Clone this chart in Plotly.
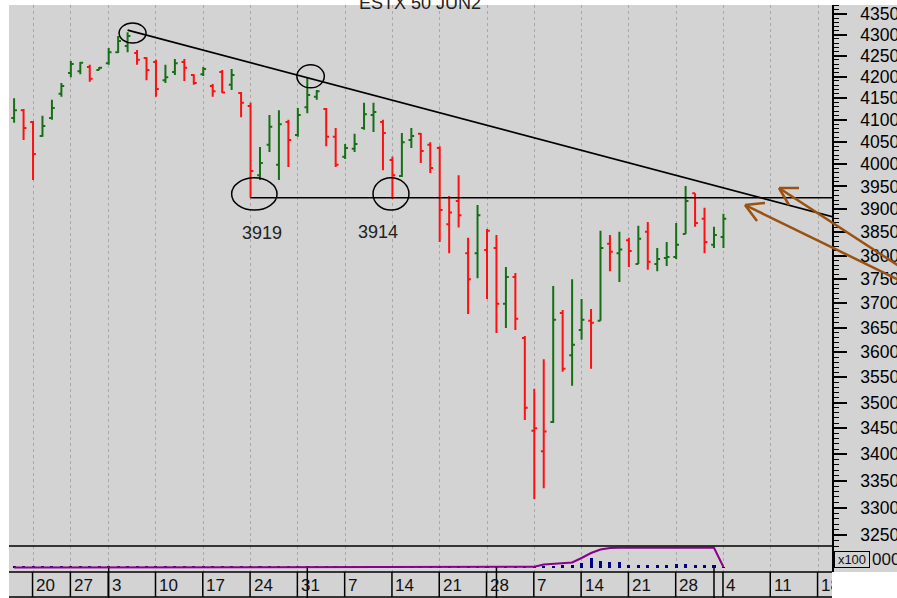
import plotly.graph_objects as go
import pandas as pd

# ---------------- data ----------------
dates = [
    "2021-12-16", "2021-12-17", "2021-12-20", "2021-12-21", "2021-12-22", "2021-12-23",
    "2021-12-27", "2021-12-28", "2021-12-29", "2021-12-30",
    "2022-01-03", "2022-01-04", "2022-01-05", "2022-01-06", "2022-01-07",
    "2022-01-10", "2022-01-11", "2022-01-12", "2022-01-13", "2022-01-14",
    "2022-01-17", "2022-01-18", "2022-01-19", "2022-01-20", "2022-01-21",
    "2022-01-24", "2022-01-25", "2022-01-26", "2022-01-27", "2022-01-28",
    "2022-01-31", "2022-02-01", "2022-02-02", "2022-02-03", "2022-02-04",
    "2022-02-07", "2022-02-08", "2022-02-09", "2022-02-10", "2022-02-11",
    "2022-02-14", "2022-02-15", "2022-02-16", "2022-02-17", "2022-02-18",
    "2022-02-21", "2022-02-22", "2022-02-23", "2022-02-24", "2022-02-25",
    "2022-02-28", "2022-03-01", "2022-03-02", "2022-03-03", "2022-03-04",
    "2022-03-07", "2022-03-08", "2022-03-09", "2022-03-10", "2022-03-11",
    "2022-03-14", "2022-03-15", "2022-03-16", "2022-03-17", "2022-03-18",
    "2022-03-21", "2022-03-22", "2022-03-23", "2022-03-24", "2022-03-25",
    "2022-03-28", "2022-03-29", "2022-03-30", "2022-03-31", "2022-04-01",
    "2022-04-04",
]

opens = [4104, 4122, 4095, 4063, 4104, 4160, 4209, 4213, 4223, 4216,
         4232, 4258, 4273, 4256, 4244, 4235, 4192, 4211, 4235, 4204,
         4206, 4178, 4211, 4181, 4162, 4132, 3975, 4043, 3998, 4095,
         4065, 4129, 4153, 4125, 4061, 4016, 4034, 4081, 4111, 4095,
         4009, 3973, 4054, 4068, 4043, 4036, 3867, 3918, 3805, 3805,
         3812, 3816, 3699, 3755, 3629, 3445, 3406, 3462, 3680, 3594,
         3645, 3664, 3664, 3825, 3805, 3833, 3782, 3851, 3782, 3795,
         3797, 3846, 3935, 3879, 3823, 3840]
highs = [4150, 4125, 4097, 4109, 4146, 4185, 4237, 4235, 4228, 4223,
         4268, 4297, 4306, 4263, 4246, 4240, 4228, 4242, 4242, 4206,
         4223, 4183, 4216, 4218, 4164, 4139, 4038, 4111, 4122, 4100,
         4127, 4197, 4169, 4127, 4081, 4045, 4068, 4139, 4139, 4100,
         4016, 4070, 4081, 4070, 4049, 4040, 3929, 3975, 3838, 3909,
         3857, 3844, 3776, 3763, 3633, 3527, 3586, 3736, 3686, 3750,
         3709, 3688, 3853, 3844, 3851, 3838, 3864, 3872, 3816, 3829,
         3870, 3951, 3935, 3903, 3862, 3890]
lows = [4093, 4054, 3964, 4061, 4100, 4153, 4199, 4206, 4188, 4216,
        4228, 4256, 4258, 4228, 4192, 4153, 4185, 4204, 4190, 4181,
        4202, 4153, 4162, 4169, 4106, 3925, 3964, 4027, 3964, 3993,
        4061, 4115, 4146, 4040, 3993, 4011, 4027, 4077, 4072, 3986,
        3922, 3971, 4036, 4002, 3980, 3829, 3805, 3860, 3678, 3752,
        3709, 3639, 3649, 3645, 3466, 3316, 3336, 3460, 3561, 3533,
        3625, 3567, 3664, 3767, 3744, 3776, 3782, 3770, 3767, 3778,
        3793, 3846, 3862, 3805, 3816, 3816]
closes = [4122, 4081, 4022, 4086, 4127, 4178, 4230, 4233, 4195, 4221,
          4258, 4285, 4297, 4240, 4216, 4171, 4199, 4232, 4221, 4185,
          4218, 4166, 4163, 4204, 4139, 3984, 4002, 4084, 4090, 4054,
          4111, 4157, 4166, 4061, 3998, 4036, 4045, 4113, 4118, 4070,
          3975, 4049, 4063, 4029, 3991, 3898, 3893, 3887, 3750, 3887,
          3853, 3699, 3755, 3668, 3490, 3450, 3444, 3666, 3567, 3615,
          3666, 3660, 3816, 3808, 3813, 3810, 3836, 3787, 3793, 3797,
          3823, 3918, 3870, 3829, 3844, 3879]

volume = [1.5] * 56 + [2, 2, 3, 3, 5, 10, 7, 6, 6, 3, 3, 3, 3, 3, 4, 4, 3, 3, 3, 1]
open_interest = [0.5] * 49 + [1.2] * 7 + [3.5, 4, 4.5, 5.5, 10, 15, 18.5, 20] + [20.3] * 11 + [1]

price_ticks = list(range(3250, 4351, 50))
title_text = "ESTX 50 JUN2"

# drawings (bar index, price)
trend_x = [12, 86.6]
trend_y = [4311, 3883]
support_x = [25, 86.6]
support_y = [3925, 3925]
level_labels = [("3919", 262, 233), ("3914", 378, 232)]  # text, pixel x, pixel y

# ---------------- geometry helpers ----------------
W, H = 897, 598
ML, MR, MT, MB = 9, 65, 5, 26
PW, PH = W - ML - MR, H - MT - MB


def pxx(x):
    return (x - ML) / PW


def pxy(y):
    return (H - MB - y) / PH


BG = "#d3d3d3"
GREEN = "#157015"
RED = "#ff1010"
NAVY = "#000080"
PURPLE = "#8b008b"
BROWN = "#9a5212"
FONT = "Liberation Sans, Arial, sans-serif"

future_dates = pd.bdate_range("2022-04-05", "2022-04-22").strftime("%Y-%m-%d").tolist()
axis_dates = dates + future_dates
idx = list(range(len(dates)))

# colour by close versus previous close
up = [closes[0] >= opens[0]] + [closes[i] >= closes[i - 1] for i in range(1, len(closes))]

fig = go.Figure()
for flag, col in ((True, GREEN), (False, RED)):
    sel = [i for i in idx if up[i] == flag]
    fig.add_trace(go.Ohlc(
        x=sel,
        open=[opens[i] for i in sel], high=[highs[i] for i in sel],
        low=[lows[i] for i in sel], close=[closes[i] for i in sel],
        increasing=dict(line=dict(color=col, width=2)),
        decreasing=dict(line=dict(color=col, width=2)),
        tickwidth=0.3, hoverinfo="skip", showlegend=False,
        xaxis="x", yaxis="y"))

fig.add_trace(go.Scatter(x=trend_x, y=trend_y, mode="lines",
                         line=dict(color="black", width=1.6),
                         hoverinfo="skip", showlegend=False, xaxis="x", yaxis="y"))
fig.add_trace(go.Scatter(x=support_x, y=support_y, mode="lines",
                         line=dict(color="black", width=1.6),
                         hoverinfo="skip", showlegend=False, xaxis="x", yaxis="y"))

fig.add_trace(go.Bar(x=idx, y=volume, marker=dict(color=NAVY, line=dict(width=0)),
                     width=0.32, hoverinfo="skip", showlegend=False,
                     xaxis="x2", yaxis="y2"))
fig.add_trace(go.Scatter(x=idx, y=open_interest, mode="lines",
                         line=dict(color=PURPLE, width=2),
                         hoverinfo="skip", showlegend=False, xaxis="x2", yaxis="y2"))

# week ticks (Mondays) and month starts
mondays = [i for i, d in enumerate(axis_dates) if pd.Timestamp(d).dayofweek == 0]
month_starts = [i for i in range(1, len(axis_dates))
                if axis_dates[i][:7] != axis_dates[i - 1][:7]]

x_range = [(ML - 14.1) / 9.458, (ML + PW - 14.1) / 9.458]
main_bottom = pxy(546)

common_x = dict(range=x_range, tickmode="array", tickvals=mondays, showticklabels=False,
                showgrid=True, griddash="dot", gridcolor="#a9a9a9", gridwidth=1,
                zeroline=False, showline=False, ticks="", automargin=False)

minor_vals = [v for v in range(3230, 4380, 10) if v % 50 != 0]

fig.update_layout(
    width=W, height=H,
    margin=dict(l=ML, r=MR, t=MT, b=MB, pad=0, autoexpand=False),
    paper_bgcolor="white", plot_bgcolor=BG,
    font=dict(family=FONT, color="black"),
    bargap=0,
    xaxis=dict(domain=[0, 1], anchor="y", rangeslider=dict(visible=False), **common_x),
    xaxis2=dict(domain=[0, 1], anchor="y2", matches="x", **common_x),
    yaxis=dict(domain=[main_bottom, 1], anchor="x", side="right", type="log",
               range=[3.50921, 3.64068], tickmode="array", tickvals=price_ticks,
               ticktext=[str(v) for v in price_ticks], ticks="outside", ticklen=13,
               tickwidth=1.5, tickcolor="black", tickfont=dict(size=17.5, family=FONT),
               ticklabelstandoff=10, automargin=False,
               minor=dict(tickmode="array", tickvals=minor_vals, ticks="outside",
                          ticklen=5, tickwidth=1, tickcolor="black", showgrid=False),
               showline=True, linecolor="black", linewidth=1.5, showgrid=False,
               zeroline=False),
    yaxis2=dict(domain=[0, main_bottom], anchor="x2", side="right", range=[-4, 22],
                showticklabels=False, ticks="", showgrid=False, zeroline=False,
                showline=True, linecolor="black", linewidth=1.5, automargin=False),
)

shapes = []
# gray label column and date strip
shapes.append(dict(type="rect", xref="paper", yref="paper", x0=1, x1=pxx(W + 5),
                   y0=pxy(572), y1=1, fillcolor=BG, line=dict(width=0), layer="below"))
shapes.append(dict(type="rect", xref="paper", yref="paper", x0=0, x1=1,
                   y0=pxy(H + 5), y1=pxy(572), fillcolor=BG, line=dict(width=0), layer="below"))
# black rules
for yy in (546, 572, 597):
    shapes.append(dict(type="line", xref="paper", yref="paper", x0=0, x1=1,
                       y0=pxy(yy), y1=pxy(yy), line=dict(color="black", width=1.5)))
# week separators and month markers in the date strip
for m in mondays:
    shapes.append(dict(type="line", xref="x", yref="paper", x0=m - 0.05, x1=m - 0.05,
                       y0=pxy(597), y1=pxy(572), line=dict(color="black", width=1.5)))
for m in month_starts:
    shapes.append(dict(type="line", xref="x", yref="paper", x0=m, x1=m,
                       y0=pxy(598), y1=pxy(568), line=dict(color="black", width=1.5)))
# ellipses (bar index, price)
ellipses = [(11.1, 13.95, 4280, 4328), (29.9, 32.8, 4174, 4228),
            (23.0, 27.8, 3898, 3969), (37.95, 41.75, 3898, 3969)]
for x0, x1, y0, y1 in ellipses:
    shapes.append(dict(type="circle", xref="x", yref="y", x0=x0, x1=x1, y0=y0, y1=y1,
                       line=dict(color="black", width=1.5)))
# brown arrows (pixel coordinates: tip, tail, barb1, barb2)
arrows = [((779, 188), (905, 270), (799, 188), (789, 205)),
          ((745, 205), (905, 283), (765, 203), (757, 221))]
for tip, tail, b1, b2 in arrows:
    for end in (tail, b1, b2):
        shapes.append(dict(type="line", xref="paper", yref="paper",
                           x0=pxx(tip[0]), y0=pxy(tip[1]), x1=pxx(end[0]), y1=pxy(end[1]),
                           line=dict(color=BROWN, width=2.5)))
fig.update_layout(shapes=shapes)

ann = []
ann.append(dict(text=title_text, xref="paper", yref="paper", x=pxx(420), y=pxy(15),
                xanchor="center", yanchor="bottom", showarrow=False,
                font=dict(size=18, family=FONT, color="#222")))
for t, x, y in level_labels:
    ann.append(dict(text=t, xref="paper", yref="paper", x=pxx(x), y=pxy(y),
                    xanchor="center", yanchor="middle", showarrow=False,
                    font=dict(size=18, family=FONT, color="#222")))
for m in mondays:
    lab = str(pd.Timestamp(axis_dates[m]).day)
    a = dict(text=lab, xref="x", yref="paper", x=m, y=pxy(585), xanchor="left",
             yanchor="middle", xshift=1, showarrow=False, align="left",
             font=dict(size=17, family=FONT, color="#111"))
    right_px = ML + PW
    left_px = 14.1 + m * 9.458
    if left_px + 22 > right_px:
        a["width"] = right_px - left_px - 3
    ann.append(a)
ann.append(dict(text="x100", xref="paper", yref="paper", x=pxx(834), y=pxy(559),
                xanchor="left", yanchor="middle", showarrow=False, width=34, height=15,
                borderpad=0, bordercolor="black", borderwidth=1,
                font=dict(size=13, family=FONT, color="#111")))
ann.append(dict(text="000", xref="paper", yref="paper", x=pxx(870), y=pxy(559),
                xanchor="left", yanchor="middle", showarrow=False,
                font=dict(size=17, family=FONT, color="#111")))
fig.update_layout(annotations=ann)

fig.write_html("out.html", config={"displayModeBar": False},
               post_script="document.body.style.margin='0';")
